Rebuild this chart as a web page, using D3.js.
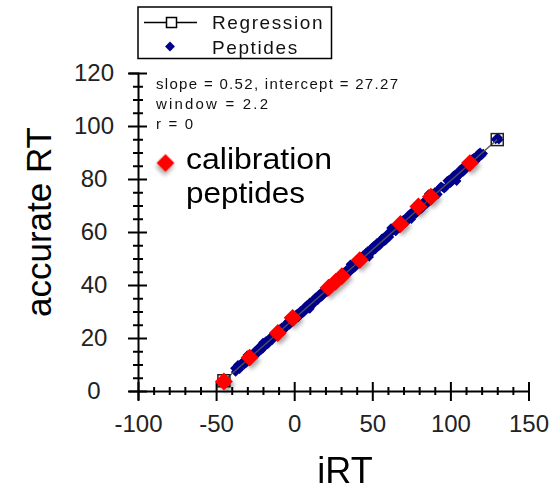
<!DOCTYPE html>
<html><head><meta charset="utf-8">
<script src="https://cdn.jsdelivr.net/npm/d3@7"></script>
<style>html,body{margin:0;padding:0;background:#fff;}svg{display:block;}</style>
</head><body>
<svg id="c" width="550" height="491"></svg>
<script>
// ---- data ----
const xTickLabels = [-100, -50, 0, 50, 100, 150];
const yTickLabels = [0, 20, 40, 60, 80, 100, 120];
const legendLabels = ["Regression", "Peptides"];
const statsLines = ["slope = 0.52, intercept = 27.27", "window = 2.2", "r = 0"];
const calibLabel = ["calibration", "peptides"];
const xTitle = "iRT";
const yTitle = "accurate RT";

// regression end points (iRT, accurate RT)
const regX = [-45, 130];
const regY = [3.87, 94.87];

// peptides (iRT, accurate RT)
const pepX = [-38,-36,-35,-33,-31,-30,-29,-27,-25,-24,-22,-20,-19,-17,-15,-14,-12,-10,-8,-7,-5,-3,-2,0,1,3,4,5,6,7,9,10,12,13,15,16,18,19,21,22,24,25,27,28,30,31,33,34,35,36,37,39,40,42,44,45,47,48,50,52,53,55,56,58,60,61,62,63,65,66,68,70,71,73,75,76,78,80,81,83,85,87,88,90,92,94,95,96,98,100,102,104,106,108,110,112,114,116,118,120,129,130.5,131,
  -37.5,-34,-32,-28,-26,-23,-21,-18,-16,-13,-11,-9,-6,-4,-1,2,2.5,8,11,14,17,20,23,26,29,32,38,41,43,46,49,51,54,57,59,64,67,69,72,74,77,79,82,84,86,89,91,93,97,99,101,103,105,107,109,111,113,115,117,119,121,129.5,
  -20,10,36,62,86,104,-30,48,75];
const pepY = [8.6,9.9,8.2,11.0,10.4,11.9,13.3,12.5,15.2,13.9,16.9,16.0,18.4,17.6,20.5,19.2,22.1,21.2,24.0,22.9,25.6,24.9,27.3,26.5,28.8,28.0,30.3,29.9,29.5,31.9,31.1,33.5,32.6,35.0,34.2,36.6,35.8,38.2,37.3,39.8,38.9,41.3,40.5,42.9,42.0,44.4,43.5,46.0,45.6,45.1,47.6,46.7,49.1,48.2,51.2,49.8,52.8,51.4,54.3,53.4,55.9,55.0,57.5,56.5,59.5,58.1,59.6,61.1,60.2,62.6,61.7,64.7,63.3,66.3,65.4,67.9,66.9,69.9,68.5,71.5,70.6,73.6,72.1,75.1,74.2,77.2,76.9,76.3,79.3,78.4,81.3,80.5,83.4,82.6,85.5,84.6,87.6,86.7,89.6,88.9,94.9,95.6,94.8,
  7.2,10.3,9.9,13.6,13.0,16.1,15.5,18.9,18.2,21.4,20.7,23.5,23.4,26.1,26.0,29.2,27.8,32.3,32.2,35.5,35.3,38.6,38.4,41.8,41.5,44.9,46.2,49.6,48.8,52.2,51.9,54.8,54.5,57.9,57.1,61.6,61.3,64.1,63.9,66.8,66.5,69.3,69.1,71.9,71.2,74.5,73.8,76.6,76.9,79.7,79.0,81.8,81.0,83.9,83.1,85.9,85.2,88.0,87.3,90.1,89.6,95.3,
  18.3,31.0,47.8,61.5,74.3,79.2,13.6,50.6,64.8];

// calibration peptides (iRT, accurate RT)
const calX = [-45, -28.5, -10.5, -1, 22, 26.5, 30.5, 42, 68, 79.5, 87.5, 112.5];
const calY = [3.6, 12.6, 21.9, 27.6, 39.0, 41.2, 43.3, 49.4, 63.0, 69.6, 73.3, 86.0];

// ---- drawing ----
const svg = d3.select("#c");
const x = d3.scaleLinear().domain([-100, 150]).range([138, 528.5]);
const y = d3.scaleLinear().domain([0, 120]).range([391, 73]);

const defs = svg.append("defs");
const f = defs.append("filter").attr("id", "sh").attr("x", "-50%").attr("y", "-50%").attr("width", "200%").attr("height", "200%");
f.append("feDropShadow").attr("dx", 2).attr("dy", 3).attr("stdDeviation", 2)
  .attr("flood-color", "#000").attr("flood-opacity", 0.35);

const font = "Arial, 'Liberation Sans', sans-serif";

// x axis major
const xAx = svg.append("g").attr("transform", `translate(0,${y(0)})`)
  .call(d3.axisBottom(x).tickValues(xTickLabels).tickSizeOuter(0).tickSize(9).tickFormat(d => String(d)));
xAx.select(".domain").attr("stroke", "#000").attr("stroke-width", 2);
xAx.selectAll(".tick line").attr("y1", -9).attr("y2", 10).attr("stroke", "#000").attr("stroke-width", 2);
xAx.selectAll(".tick text").attr("y", 41).attr("dy", null)
  .attr("font-family", font).attr("font-size", 24).attr("fill", "#222");

// x axis minor
const xMinor = d3.range(-100, 151, 10).filter(v => v % 50 !== 0);
const xMi = svg.append("g").attr("transform", `translate(0,${y(0)})`)
  .call(d3.axisBottom(x).tickValues(xMinor).tickFormat(""));
xMi.select(".domain").remove();
xMi.selectAll(".tick line").attr("y1", -4).attr("y2", 4).attr("stroke", "#000").attr("stroke-width", 2);

// y axis major
const yAx = svg.append("g").attr("transform", `translate(${x(-100)},0)`)
  .call(d3.axisLeft(y).tickValues(yTickLabels).tickSizeOuter(0).tickSize(9).tickFormat(d => String(d)));
yAx.select(".domain").attr("stroke", "#000").attr("stroke-width", 2);
yAx.selectAll(".tick line").attr("x1", -10).attr("x2", 9).attr("stroke", "#000").attr("stroke-width", 2);
yAx.selectAll(".tick text").attr("x", -44).attr("dy", null).attr("y", 7)
  .attr("text-anchor", "middle")
  .attr("font-family", font).attr("font-size", 24).attr("fill", "#222");

// y axis minor
const yMinor = d3.range(0, 121, 5).filter(v => v % 20 !== 0);
const yMi = svg.append("g").attr("transform", `translate(${x(-100)},0)`)
  .call(d3.axisLeft(y).tickValues(yMinor).tickFormat(""));
yMi.select(".domain").remove();
yMi.selectAll(".tick line").attr("x1", -5).attr("x2", 5).attr("stroke", "#000").attr("stroke-width", 2);

// peptides
const pep = pepX.map((v, i) => [v, pepY[i]]);
svg.append("g").selectAll("path").data(pep).join("path")
  .attr("d", d3.symbol(d3.symbolSquare, 46)())
  .attr("transform", d => `translate(${x(d[0])},${y(d[1])}) rotate(45)`)
  .attr("fill", "#00008c");

// regression line
const reg = regX.map((v, i) => [v, regY[i]]);
svg.append("path").datum(reg)
  .attr("d", d3.line().x(d => x(d[0])).y(d => y(d[1])))
  .attr("stroke", "#555").attr("stroke-width", 1.3).attr("fill", "none");
svg.append("g").selectAll("rect").data(reg).join("rect")
  .attr("x", d => x(d[0]) - 6).attr("y", d => y(d[1]) - 6)
  .attr("width", 12).attr("height", 12)
  .attr("fill", "none").attr("stroke", "#222").attr("stroke-width", 1.5);

// calibration peptides
const cal = calX.map((v, i) => [v, calY[i]]);
svg.append("g").attr("filter", "url(#sh)").selectAll("path").data(cal).join("path")
  .attr("d", d3.symbol(d3.symbolSquare, 160)())
  .attr("transform", d => `translate(${x(d[0])},${y(d[1])}) rotate(45)`)
  .attr("fill", "#ff0000");

// calibration annotation
svg.append("path").attr("filter", "url(#sh)")
  .attr("d", d3.symbol(d3.symbolSquare, 160)())
  .attr("transform", "translate(165.5,163) rotate(45)")
  .attr("fill", "#ff0000");
const calibLen = [146, 119];
svg.append("g").selectAll("text").data(calibLabel).join("text")
  .attr("x", 186).attr("y", (d, i) => 169 + i * 34)
  .attr("font-family", font).attr("font-size", 29.5).attr("fill", "#000")
  .attr("textLength", (d, i) => calibLen[i]).attr("lengthAdjust", "spacingAndGlyphs")
  .text(d => d);

// stats text
const statLen = [242, 112, 37];
svg.append("g").selectAll("text").data(statsLines).join("text")
  .attr("x", 156).attr("y", (d, i) => 88.5 + i * 20)
  .attr("font-family", font).attr("font-size", 15).attr("fill", "#111")
  .attr("textLength", (d, i) => statLen[i]).attr("lengthAdjust", "spacing")
  .text(d => d);

// legend
const lg = svg.append("g");
lg.append("rect").attr("x", 138).attr("y", 7).attr("width", 193.5).attr("height", 51.5)
  .attr("fill", "#fff").attr("stroke", "#000").attr("stroke-width", 1.5);
lg.append("line").attr("x1", 144).attr("x2", 197).attr("y1", 22.5).attr("y2", 22.5)
  .attr("stroke", "#000").attr("stroke-width", 1.5);
lg.append("rect").attr("x", 166.5).attr("y", 17.5).attr("width", 10).attr("height", 10)
  .attr("fill", "#fff").attr("stroke", "#000").attr("stroke-width", 1.5);
lg.append("path").attr("d", d3.symbol(d3.symbolSquare, 49)())
  .attr("transform", "translate(170,46.5) rotate(45)").attr("fill", "#00008c");
lg.selectAll("text").data(legendLabels).join("text")
  .attr("x", 212).attr("y", (d, i) => i === 0 ? 28.5 : 54)
  .attr("font-family", font).attr("font-size", 19).attr("letter-spacing", 1.6).attr("fill", "#111")
  .text(d => d);

// axis titles
svg.append("text").attr("x", 345).attr("y", 483).attr("text-anchor", "middle")
  .attr("font-family", font).attr("font-size", 36).attr("fill", "#000").text(xTitle);
svg.append("text").attr("transform", "translate(51,222) rotate(-90)").attr("text-anchor", "middle")
  .attr("font-family", font).attr("font-size", 35).attr("fill", "#000")
  .text(yTitle);
</script>
</body></html>
